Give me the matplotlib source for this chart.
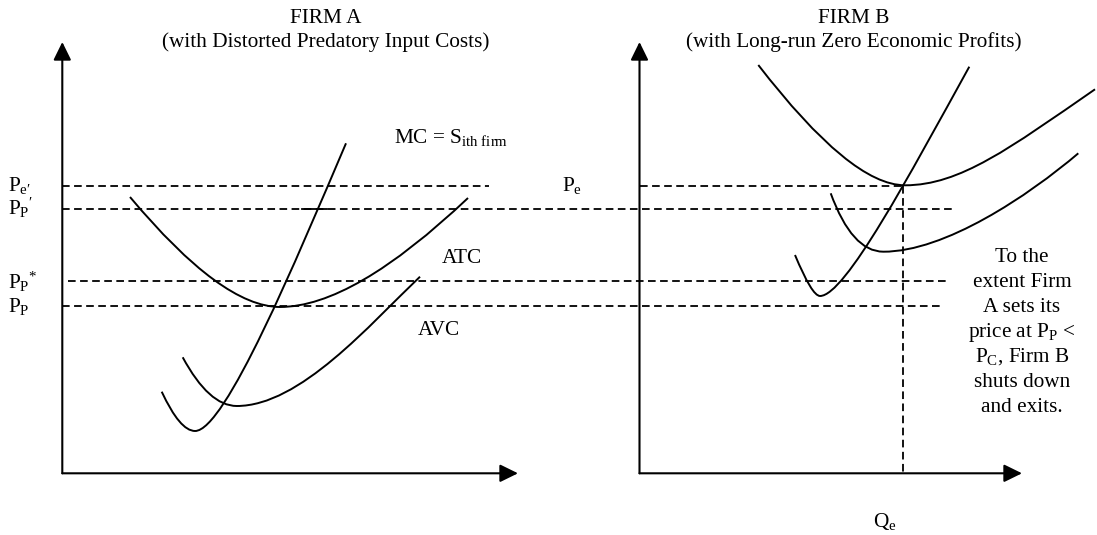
import matplotlib
matplotlib.use('Agg')
import matplotlib.pyplot as plt
from matplotlib.path import Path
from matplotlib.patches import PathPatch

plt.rcParams['font.family'] = ['Liberation Serif', 'DejaVu Serif']
plt.rcParams['mathtext.fontset'] = 'custom'
plt.rcParams['mathtext.rm'] = 'Liberation Serif'
plt.rcParams['mathtext.it'] = 'Liberation Serif:italic'
plt.rcParams['mathtext.bf'] = 'Liberation Serif:bold'
plt.rcParams['lines.scale_dashes'] = False

# ---------------- data (diagram units, y grows downward) ----------------
# axes of the two panels
axisA_x, axisA_top, axisA_right = 62.3, 42.0, 518.0
axisB_x, axisB_top, axisB_right = 639.5, 42.0, 1022.0
axis_base_y = 473.3

# price levels and the extents of their dashed guides
price_Pe = 185.7
price_Pp_prime = 209.3
price_Pp_star = 281.3
price_Pp = 305.5
guide_Pe_A = [62.3, 489.0]
guide_Pe_B = [639.5, 903.0]
guide_Pp_prime = [62.3, 952.0]
guide_Pp_star = [68.0, 950.0]
guide_Pp = [62.3, 943.0]
quantity_Qe = 902.5
tick_Pp_prime = [302.0, 327.0]

# cost curves as Bezier control vertices
MV, C3, C4 = Path.MOVETO, Path.CURVE3, Path.CURVE4
atcA_x = [130, 222, 280, 353, 468]
atcA_y = [197, 307, 307, 307, 198]
atcA_codes = [MV, C3, C3, C3, C3]

mcA_x = [161.7, 180, 195, 225, 296, 346]
mcA_y = [391.7, 431, 431, 431, 260.3, 143.3]
mcA_codes = [MV, C3, C3, C4, C4, C4]

avcA_x = [182.7, 209, 236.7, 300, 370, 420]
avcA_y = [357.3, 406, 406, 406, 324.2, 276.7]
avcA_codes = [MV, C3, C3, C4, C4, C4]

atcB_x = [758.3, 851, 905, 960, 1010, 1095]
atcB_y = [65, 185.3, 185.3, 185.3, 148, 89.3]
atcB_codes = [MV, C3, C3, C4, C4, C4]

mcB_x = [795, 812, 820, 845, 909.3, 969.3]
mcB_y = [255, 296, 296, 296, 175.3, 66.7]
mcB_codes = [MV, C3, C3, C4, C4, C4]

avcB_x = [830.7, 852, 883.3, 945, 1028, 1078.3]
avcB_y = [193.3, 251.7, 251.7, 251.7, 196, 153.3]
avcB_codes = [MV, C3, C3, C4, C4, C4]

# texts
title_A = ['FIRM A', '(with Distorted Predatory Input Costs)']
title_B = ['FIRM B', '(with Long-run Zero Economic Profits)']
left_labels = [r'$\mathregular{P_{e\prime}}$', r"$\mathregular{P_{P}{}^{\prime}}$",
               r'$\mathregular{P_{P}{}^{*}}$', r'$\mathregular{P_{P}}$']
left_label_y = [190.7, 215.0, 288.3, 311.7]
note_lines = ['To the', 'extent Firm', 'A sets its',
              r'price at P$_{\mathregular{P}}$ <', r'P$_{\mathregular{C}}$, Firm B',
              'shuts down', 'and exits.']
note_y = [262.5, 287.0, 312.0, 337.5, 362.0, 387.0, 412.0]

# ---------------- drawing ----------------
fig = plt.figure(figsize=(10.97, 5.35), dpi=100)
ax = fig.add_axes([0, 0, 1, 1])
ax.set_xlim(0, 1097)
ax.set_ylim(535, 0)
ax.axis('off')

AX_LW = 1.5
CURVE_LW = 1.4
DASH_LW = 1.3
DASH = (0, (5.5, 3.2))
FS = 15.3

def axis_arrow(x0, y0, x1, y1):
    ax.annotate('', xy=(x1, y1), xytext=(x0, y0),
                arrowprops=dict(arrowstyle='-|>,head_length=0.55,head_width=0.27',
                                mutation_scale=20, lw=AX_LW, color='black',
                                shrinkA=0, shrinkB=0))

# axes with arrows
axis_arrow(axisA_x, axis_base_y, axisA_x, axisA_top)
axis_arrow(axisA_x, axis_base_y, axisA_right, axis_base_y)
axis_arrow(axisB_x, axis_base_y, axisB_x, axisB_top)
axis_arrow(axisB_x, axis_base_y, axisB_right, axis_base_y)

# dashed guides
for (xs, y) in [(guide_Pe_A, price_Pe), (guide_Pe_B, price_Pe),
                (guide_Pp_prime, price_Pp_prime), (guide_Pp_star, price_Pp_star),
                (guide_Pp, price_Pp)]:
    ax.plot(xs, [y, y], color='black', lw=DASH_LW, linestyle=DASH)
ax.plot([quantity_Qe, quantity_Qe], [price_Pe, axis_base_y], color='black',
        lw=DASH_LW, linestyle=DASH)
ax.plot(tick_Pp_prime, [price_Pp_prime, price_Pp_prime], color='black', lw=DASH_LW)

# curves
for xs, ys, codes in [(atcA_x, atcA_y, atcA_codes), (mcA_x, mcA_y, mcA_codes),
                      (avcA_x, avcA_y, avcA_codes), (atcB_x, atcB_y, atcB_codes),
                      (mcB_x, mcB_y, mcB_codes), (avcB_x, avcB_y, avcB_codes)]:
    path = Path(list(zip(xs, ys)), codes)
    ax.add_patch(PathPatch(path, facecolor='none', edgecolor='black',
                           lw=CURVE_LW, capstyle='butt'))

# titles
ax.text(326, 23.3, title_A[0], ha='center', va='baseline', fontsize=FS)
ax.text(326, 47.5, title_A[1], ha='center', va='baseline', fontsize=FS)
ax.text(854, 23.3, title_B[0], ha='center', va='baseline', fontsize=FS)
ax.text(854, 47.5, title_B[1], ha='center', va='baseline', fontsize=FS)

# curve labels
ax.text(394, 143.3, r'MC = S$_{\mathregular{ith\ firm}}$', ha='left', va='baseline', fontsize=FS)
ax.text(441.7, 262.7, 'ATC', ha='left', va='baseline', fontsize=FS)
ax.text(417.7, 335.0, 'AVC', ha='left', va='baseline', fontsize=FS)

# price labels
for lab, y in zip(left_labels, left_label_y):
    ax.text(8.3, y, lab, ha='left', va='baseline', fontsize=FS)
ax.text(562, 191.0, r'$\mathregular{P_{e}}$', ha='left', va='baseline', fontsize=FS)
ax.text(885, 527.0, r'$\mathregular{Q_{e}}$', ha='center', va='baseline', fontsize=FS)

# note
for line, y in zip(note_lines, note_y):
    ax.text(1022, y, line, ha='center', va='baseline', fontsize=FS)

fig.savefig('out.png', dpi=100)
